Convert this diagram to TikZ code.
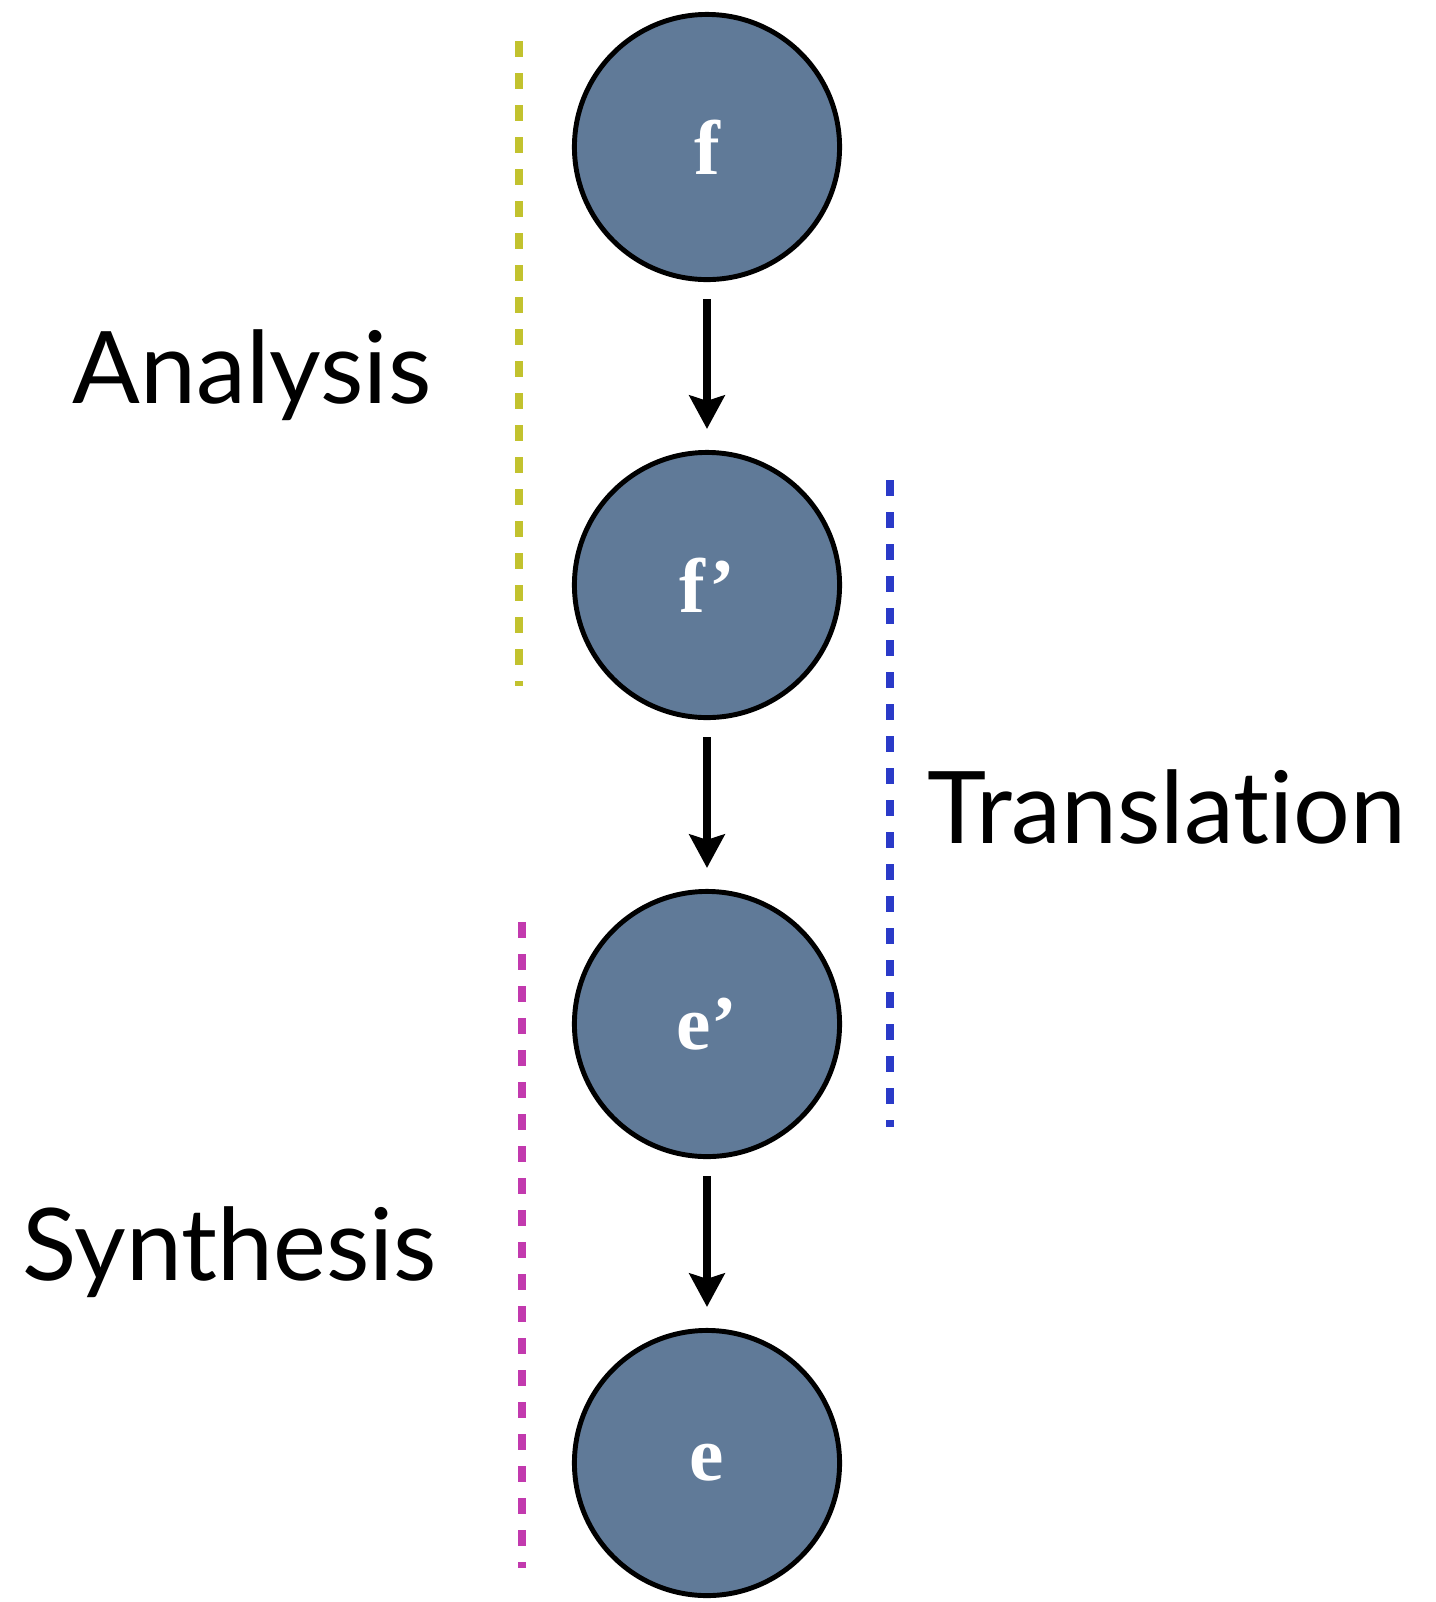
\documentclass[tikz,border=0pt]{standalone}
\usepackage{fontspec}
\setmainfont{Lato}[Ligatures=NoCommon]
\newfontfamily\letterfont{Liberation Serif}
\usetikzlibrary{arrows.meta}
\definecolor{stageblue}{RGB}{96,122,152}
\definecolor{analysisyellow}{RGB}{194,194,46}
\definecolor{translationblue}{RGB}{42,58,200}
\definecolor{synthesismagenta}{RGB}{194,58,174}

\begin{document}
\begin{tikzpicture}[
    x=0.01cm, y=-0.01cm,
    >={Stealth[length=9.5pt, width=10pt, inset=1.5pt]},
    stage/.style={
        circle,
        draw=black,
        line width=1.4pt,
        fill=stageblue,
        minimum size=2.65cm,
        inner sep=0pt,
        text=white,
        font=\letterfont\bfseries\fontsize{22}{22}\selectfont
    },
    flow/.style={
        ->,
        line width=2.3pt,
        shorten <=0.17cm,
        shorten >=0.21cm
    },
    phase/.style={
        line width=2.3pt,
        dash pattern=on 4.55pt off 4.55pt
    },
    phasename/.style={
        anchor=base west,
        inner sep=0pt,
        font=\fontsize{28.5}{28.5}\selectfont
    }
]

\useasboundingbox (0,0) rectangle (1435,1602);

% Stufen
\node[stage] (f)  at (707,147)  {f};
\node[stage] (fp) at (707,585)  {f’};
\node[stage] (ep) at (707,1024) {e’};
\node[stage] (e)  at (707,1463) {e};

% Pfeile
\draw[flow] (f)  -- (fp);
\draw[flow] (fp) -- (ep);
\draw[flow] (ep) -- (e);

% Analyse
\draw[phase, analysisyellow] (519,41) -- (519,686);
\node[phasename] (analysis) at (72,403) {Analysis};

% Uebersetzung
\draw[phase, translationblue] (890,480) -- (890,1127);
\node[phasename] (translation) at (927,843) {Translation};

% Synthese
\draw[phase, synthesismagenta] (522,922) -- (522,1568);
\node[phasename] (synthesis) at (22,1280) {Synthesis};

\end{tikzpicture}
\end{document}
